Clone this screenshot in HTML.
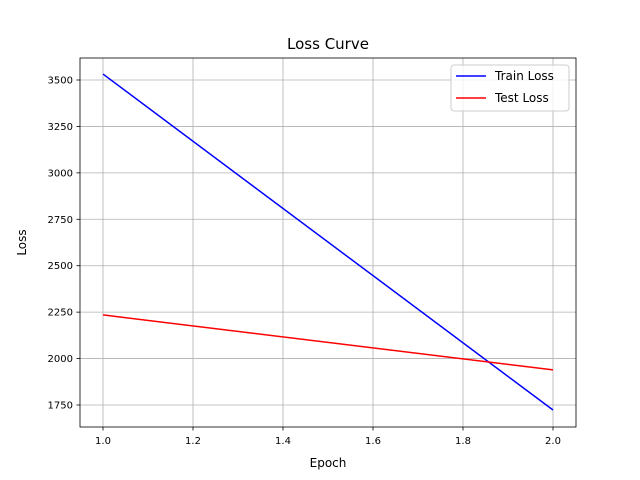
<!DOCTYPE html>
<html><head><meta charset="utf-8"><style>
body{margin:0;background:#fff;}
svg{display:block;font-family:"DejaVu Sans","Liberation Sans",sans-serif;}
</style></head><body>
<svg id="chart" width="640" height="480"></svg>
<script>
const epochs=[1.0,2.0];
const trainLoss=[3532,1723];
const testLoss=[2235,1939];
const xTicks=[1.0,1.2,1.4,1.6,1.8,2.0];
const yTicks=[1750,2000,2250,2500,2750,3000,3250,3500];
const svg=document.getElementById('chart');
const NS='http://www.w3.org/2000/svg';
const L=80,R=576,T=58,B=427;
function xs(v){return 103+(v-1.0)*450;}
function ys(v){return 80+(3500-v)*(325/1750);}
function mk(tag,attrs,parent){const e=document.createElementNS(NS,tag);for(const k in attrs)e.setAttribute(k,attrs[k]);(parent||svg).appendChild(e);return e;}
const grid=mk('g',{});


xTicks.forEach(t=>{const x=xs(t);
 mk('line',{x1:x,x2:x,y1:T,y2:B,stroke:'#b0b0b0','stroke-width':0.8},grid);
 mk('line',{x1:x,x2:x,y1:B,y2:B+3.5,stroke:'#000','stroke-width':0.8});
 const tx=mk('text',{x:x,y:B+17,'text-anchor':'middle','font-size':10,fill:'#000'});
 
 
 tx.textContent=t.toFixed(1);});
yTicks.forEach(t=>{const y=ys(t);
 mk('line',{x1:L,x2:R,y1:y,y2:y,stroke:'#b0b0b0','stroke-width':0.8},grid);
 mk('line',{x1:L-3.5,x2:L,y1:y,y2:y,stroke:'#000','stroke-width':0.8});
 const tx=mk('text',{x:L-7,y:y+3.5,'text-anchor':'end','font-size':10,fill:'#000'});
 
 
 tx.textContent=t;});
function line(vals,color,name){const p=mk('polyline',{points:epochs.map((e,i)=>xs(e)+','+ys(vals[i])).join(' '),fill:'none',stroke:color,'stroke-width':1.5});
 
 }
line(trainLoss,'#0000ff','train-loss-line');
line(testLoss,'#ff0000','test-loss-line');
const frame=mk('rect',{x:L,y:T,width:R-L,height:B-T,fill:'none',stroke:'#000','stroke-width':0.8});


const title=mk('text',{x:(L+R)/2,y:49,'text-anchor':'middle','font-size':15});


title.textContent='Loss Curve';
const xl=mk('text',{x:(L+R)/2,y:467,'text-anchor':'middle','font-size':12});


xl.textContent='Epoch';
const yl=mk('text',{x:26,y:(T+B)/2,'text-anchor':'middle','font-size':12,transform:'rotate(-90 26 '+((T+B)/2)+')'});


yl.textContent='Loss';
const lg=mk('g',{});


mk('rect',{x:451,y:65,width:118,height:46,rx:3,fill:'#fff','fill-opacity':0.8,stroke:'#ccc','stroke-width':1},lg);
[['Train Loss','#0000ff',76],['Test Loss','#ff0000',98]].forEach(([n,c,y])=>{
 const g=mk('g',{},lg);
 
 
 mk('line',{x1:456,x2:486,y1:y,y2:y,stroke:c,'stroke-width':1.5},g);
 const t=mk('text',{x:495,y:y+4,'font-size':12},g);t.textContent=n;});
</script>
</body></html>
